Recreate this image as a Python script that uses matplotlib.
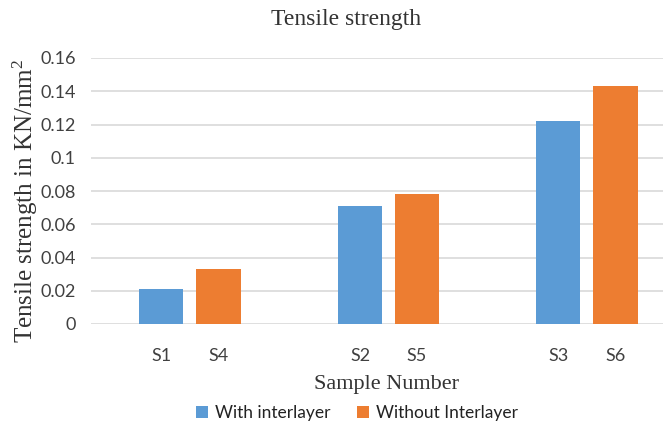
import matplotlib
matplotlib.use("Agg")
import matplotlib.pyplot as plt
import numpy as np

# values
groups = [0, 1, 2]
with_labels = ["S1", "S2", "S3"]
without_labels = ["S4", "S5", "S6"]
with_inter = [0.021, 0.071, 0.122]
without_inter = [0.033, 0.078, 0.143]
yticks = [0, 0.02, 0.04, 0.06, 0.08, 0.1, 0.12, 0.14, 0.16]
ytick_labels = ["0", "0.02", "0.04", "0.06", "0.08", "0.1", "0.12", "0.14", "0.16"]

blue = "#5B9BD5"
orange = "#ED7D31"
serif = ["Liberation Serif", "DejaVu Serif"]
sans = ["Lato", "DejaVu Sans"]

plt.rcParams["mathtext.fontset"] = "custom"
plt.rcParams["mathtext.rm"] = "Liberation Serif"
plt.rcParams["mathtext.it"] = "Liberation Serif:italic"

W, H = 663, 422
fig = plt.figure(figsize=(W/100, H/100), dpi=100)
ax = fig.add_axes([91/W, 98/H, (W-91)/W, (324-58)/H])

x = np.array(groups, dtype=float)
off = 0.1436
bw = 0.2217
ax.bar(x - off, with_inter, bw, color=blue, label="With interlayer", zorder=3)
ax.bar(x + off, without_inter, bw, color=orange, label="Without Interlayer", zorder=3)

ax.set_xlim(-0.4987, (W-190)/198.5)
ax.set_ylim(0, 0.16)
ax.set_yticks(yticks)
ax.set_yticklabels(ytick_labels, family=sans, fontsize=13, color="#404040")
pos = list(x - off) + list(x + off)
ax.set_xticks(pos)
ax.set_xticklabels(with_labels + without_labels, family=sans, fontsize=13, color="#404040")
ax.tick_params(axis="both", length=0)
ax.tick_params(axis="x", pad=17)
ax.tick_params(axis="y", pad=11)
ax.grid(axis="y", color="#D9D9D9", linewidth=1.2, zorder=0)
for s in ax.spines.values():
    s.set_visible(False)

fig.text(346/W, 1-20/H, "Tensile strength", ha="center", va="center",
         family=serif, fontsize=17, color="#333333")
fig.text(387/W, 1-384/H, "Sample Number", ha="center", va="center",
         family=serif, fontsize=16, color="#333333")
fig.text(25/W, 1-201/H, "Tensile strength in KN/mm$\\mathrm{^2}$", ha="center", va="center",
         rotation=90, family=serif, fontsize=18, color="#333333")

fig.legend(loc="center", bbox_to_anchor=(357/W, 1-413/H), ncol=2, frameon=False,
           prop={"family": sans, "size": 12.5}, handlelength=0.7, handleheight=0.7,
           columnspacing=1.5, handletextpad=0.4, labelcolor="#222222")

fig.savefig("out.png", dpi=100)
